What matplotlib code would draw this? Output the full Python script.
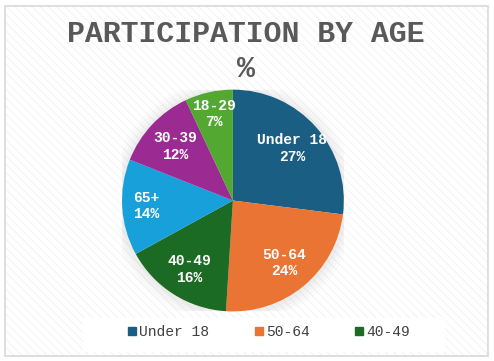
import numpy as np
import matplotlib.pyplot as plt
from matplotlib.patches import Rectangle, Circle
from matplotlib.lines import Line2D

# data
groups = ['Under 18', '50-64', '40-49', '65+', '30-39', '18-29']
shares = [27, 24, 16, 14, 12, 7]
colors = ['#1B5E83', '#EA7433', '#1C6B25', '#17A0D9', '#9C2A93', '#53A832']
legend_groups = ['Under 18', '50-64', '40-49']

mono = 'Liberation Mono'
plt.rcParams['hatch.linewidth'] = 0.6

fig = plt.figure(figsize=(4.94, 3.61), dpi=100)

# background with fine diagonal hatching
bg = Rectangle((0.01, 0.015), 0.978, 0.968, transform=fig.transFigure,
               facecolor='white', edgecolor='#f1f1f1', hatch='\\\\\\\\', lw=0, zorder=-3)
fig.patches.append(bg)
frame = Rectangle((0.01, 0.015), 0.978, 0.968, transform=fig.transFigure,
                  facecolor='none', edgecolor='#d9d9d9', lw=1.2, zorder=-1)
fig.patches.append(frame)
# legend band
band = Rectangle((0.168, 0.025), 0.733, 0.094, transform=fig.transFigure,
                 facecolor='white', edgecolor='none', zorder=-2)
fig.patches.append(band)

fig.text(0.497, 0.905, 'PARTICIPATION BY AGE', ha='center', va='center',
         family=mono, weight='bold', fontsize=21.5, color='#595959')
fig.text(0.497, 0.808, '%', ha='center', va='center',
         family=mono, weight='bold', fontsize=21.5, color='#595959')

ax = fig.add_axes([0.247, 0.137, 0.449, 0.615])
ax.set_zorder(1)

# soft shadow around the pie
for r, a in [(1.12, 0.025), (1.09, 0.035), (1.06, 0.045), (1.03, 0.06)]:
    ax.add_patch(Circle((0, -0.01), r, color='#9a9a9a', alpha=a, lw=0, zorder=0))

wedges, _ = ax.pie(shares, colors=colors, startangle=90, counterclock=False,
                   radius=1.0, wedgeprops=dict(lw=0))
ax.set_xlim(-1.0, 1.0)
ax.set_ylim(-1.0, 1.0)
ax.set_aspect('equal')

label_r = [0.71, 0.73, 0.74, 0.79, 0.71, 0.80]
start = 90.0
for g, s, r in zip(groups, shares, label_r):
    mid = start - s * 3.6 / 2
    start -= s * 3.6
    x = r * np.cos(np.radians(mid))
    y = r * np.sin(np.radians(mid))
    ha = 'left' if g == '65+' else 'center'
    if ha == 'left':
        x -= 0.11
    ax.text(x, y, f'{g}\n{s}%', ha=ha, va='center', ma=ha, family=mono,
            weight='bold', fontsize=10.5, color='white', linespacing=1.25,
            clip_on=False, zorder=5)
ax.axis('off')

handles = [Line2D([], [], marker='s', ls='', color=colors[groups.index(g)], markersize=6)
           for g in legend_groups]
fig.legend(handles, legend_groups, loc='center', bbox_to_anchor=(0.543, 0.081), ncol=3,
           frameon=False, prop=dict(family=mono, size=10.5), labelcolor='#404040',
           handletextpad=0.1, columnspacing=3.0, handlelength=0.8)

fig.savefig('out.png', dpi=100)
